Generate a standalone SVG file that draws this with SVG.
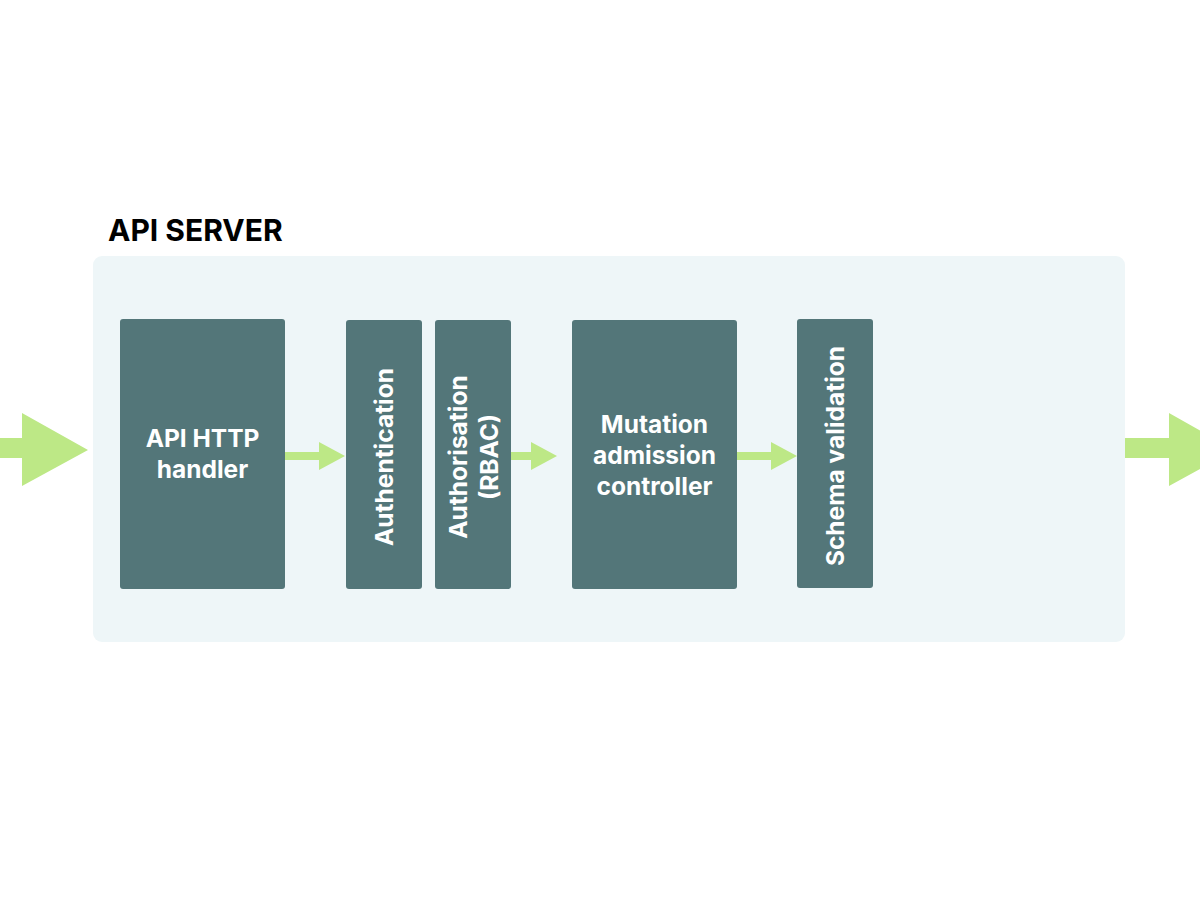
<svg xmlns="http://www.w3.org/2000/svg" width="1200" height="900" viewBox="0 0 1200 900">
<style>
.node{fill:#537679;}
.lbl{font-family:Inter,"Liberation Sans",sans-serif;font-weight:700;font-size:24.5px;fill:#ffffff;text-anchor:middle;}
.arrow{fill:#bde886;}
</style>
<rect width="1200" height="900" fill="#ffffff"/>
<g id="container">
<rect x="93" y="256" width="1032" height="386" rx="9" fill="#eef6f8"/>
<text x="108" y="241" font-family="Inter,'Liberation Sans',sans-serif" font-weight="700" font-size="30" fill="#000000">API SERVER</text>
</g>
<g id="connectors">
<polygon class="arrow" points="0,438 22,438 22,413 88,450 22,486 22,458 0,458"/>
<polygon class="arrow" points="1125,438 1169,438 1169,413 1235,450 1169,486 1169,458 1125,458"/>
<polygon class="arrow" points="285,452 319,452 319,442 345,456 319,470 319,460 285,460"/>
<polygon class="arrow" points="511,452 531,452 531,442 557,456 531,470 531,460 511,460"/>
<polygon class="arrow" points="737,452 771,452 771,442 797,456 771,470 771,460 737,460"/>
</g>
<g id="node-http">
<rect class="node" x="120" y="319" width="165" height="270" rx="3"/>
<text class="lbl" x="202.500" y="447">API HTTP</text>
<text class="lbl" x="202.500" y="478">handler</text>
</g>
<g id="node-authn">
<rect class="node" x="346" y="320" width="76" height="269" rx="3"/>
<text class="lbl" transform="translate(393,457) rotate(-90)" x="0" y="0">Authentication</text>
</g>
<g id="node-authz">
<rect class="node" x="435" y="320" width="76" height="269" rx="3"/>
<text class="lbl" transform="translate(467,457) rotate(-90)" x="0" y="0">Authorisation</text>
<text class="lbl" transform="translate(498,457) rotate(-90)" x="0" y="0">(RBAC)</text>
</g>
<g id="node-mutation">
<rect class="node" x="572" y="320" width="165" height="269" rx="3"/>
<text class="lbl" x="654.500" y="433">Mutation</text>
<text class="lbl" x="654.500" y="464">admission</text>
<text class="lbl" x="654.500" y="495">controller</text>
</g>
<g id="node-schema">
<rect class="node" x="797" y="319" width="76" height="269" rx="3"/>
<text class="lbl" transform="translate(844,456) rotate(-90)" x="0" y="0">Schema validation</text>
</g>
</svg>
